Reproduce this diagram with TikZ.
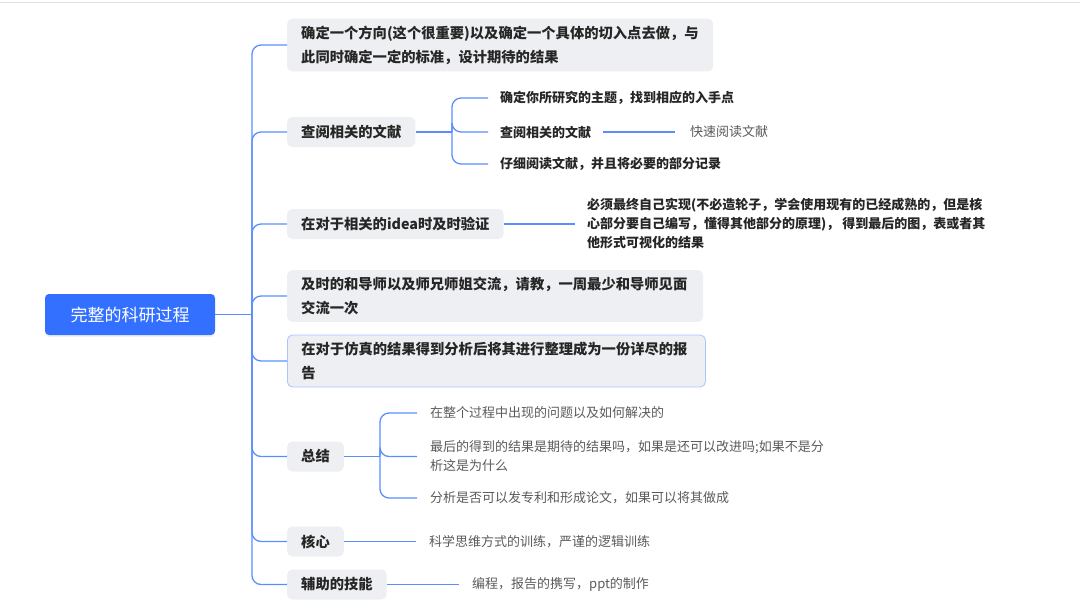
\documentclass[tikz,border=0pt]{standalone}
\usepackage{fontspec}
\setmainfont{Noto Sans CJK SC}
\usetikzlibrary{shadows}
\definecolor{linkblue}{RGB}{90,141,255}
\definecolor{rootblue}{RGB}{51,112,255}
\definecolor{topicgray}{RGB}{238,239,242}
\definecolor{inkdark}{RGB}{38,38,38}
\definecolor{inkgray}{RGB}{90,90,90}
\definecolor{pickblue}{RGB}{170,196,255}

\begin{document}
\begin{tikzpicture}[x=1pt,y=-1pt,
  link/.style={draw=linkblue,line width=1.3pt,rounded corners=9pt},
  rootbox/.style={fill=rootblue,text=white,rounded corners=4pt,minimum width=170pt,minimum height=41pt,
    font=\fontsize{17}{20}\selectfont,drop shadow={opacity=0.12,shadow xshift=0pt,shadow yshift=-2pt}},
  topic/.style={anchor=west,fill=topicgray,text=inkdark,rounded corners=5pt,inner xsep=14pt,inner ysep=7pt,
    minimum height=30pt,align=left,font=\fontsize{14.3}{24}\selectfont\bfseries},
  leaf/.style={anchor=west,inner xsep=12pt,inner ysep=2pt,align=left,text=inkdark,
    font=\fontsize{13}{19}\selectfont\bfseries},
  note/.style={leaf,inner xsep=13pt,text=inkgray,font=\fontsize{13}{19}\selectfont}]
\useasboundingbox (0,0) rectangle (1080,606);
\path[draw=black!12,line width=1pt] (0,2) -- (1080,2);
% root and trunk:
\node[rootbox] (root) at (130,314.5) {完整的科研过程};
\coordinate (trunk) at (252,314.5);
% level 1 topics:
\node[topic,text width=398pt] (direction) at (287,45) {确定一个方向(这个很重要)以及确定一个具体的切入点去做，与\\此同时确定一定的标准，设计期待的结果};
\node[topic] (reading) at (287,132) {查阅相关的文献};
\node[topic] (verify) at (287,224) {在对于相关的idea时及时验证};
\node[topic,text width=388pt] (talk) at (287,296) {及时的和导师以及师兄师姐交流，请教，一周最少和导师见面\\交流一次};
\node[topic,text width=390pt,draw=pickblue,line width=0.8pt] (report) at (287,361) {在对于仿真的结果得到分析后将其进行整理成为一份详尽的报\\告};
\node[topic] (summary) at (287,456.5) {总结};
\node[topic] (core) at (287,541.5) {核心};
\node[topic] (skills) at (287,584.5) {辅助的技能};
% level 2 under reading:
\coordinate (reading-fork) at (452,132);
\node[leaf] (topic-pick) at (488,98) {确定你所研究的主题，找到相应的入手点};
\node[leaf] (lit-search) at (488,132) {查阅相关的文献};
\node[leaf] (lit-note) at (488,164) {仔细阅读文献，并且将必要的部分记录};
\node[note,inner xsep=15pt] (skim) at (675,132) {快速阅读文献};
% level 2 under verify:
\node[leaf] (own-code) at (575,224) {必须最终自己实现(不必造轮子，学会使用现有的已经成熟的，但是核\\心部分要自己编写，懂得其他部分的原理)， 得到最后的图，表或者其\\他形式可视化的结果};
% level 2 under summary, core, skills:
\coordinate (summary-fork) at (380,456.5);
\node[note] (problems) at (417,413) {在整个过程中出现的问题以及如何解决的};
\node[note] (expect) at (417,456.5) {最后的得到的结果是期待的结果吗，如果是还可以改进吗;如果不是分\\析这是为什么};
\node[note] (patent) at (417,498) {分析是否可以发专利和形成论文，如果可以将其做成};
\node[note] (thinking) at (416,541.5) {科学思维方式的训练，严谨的逻辑训练};
\node[note] (tools) at (459,584.5) {编程，报告的携写，ppt的制作};
% connectors:
\draw[link] (root.east) -- (trunk);
\foreach \n in {direction,reading,verify,talk,report,summary,core,skills}
  \draw[link] (trunk) |- (\n.west);
\draw[link] (reading.east) -- (reading-fork);
\foreach \n in {topic-pick,lit-search,lit-note}
  \draw[link] (reading-fork) |- (\n.west);
\draw[link] (lit-search.east) -- (skim.west);
\draw[link] (verify.east) -- (own-code.west);
\draw[link] (summary.east) -- (summary-fork);
\foreach \n in {problems,expect,patent}
  \draw[link] (summary-fork) |- (\n.west);
\draw[link] (core.east) -- (thinking.west);
\draw[link] (skills.east) -- (tools.west);
\end{tikzpicture}
\end{document}
